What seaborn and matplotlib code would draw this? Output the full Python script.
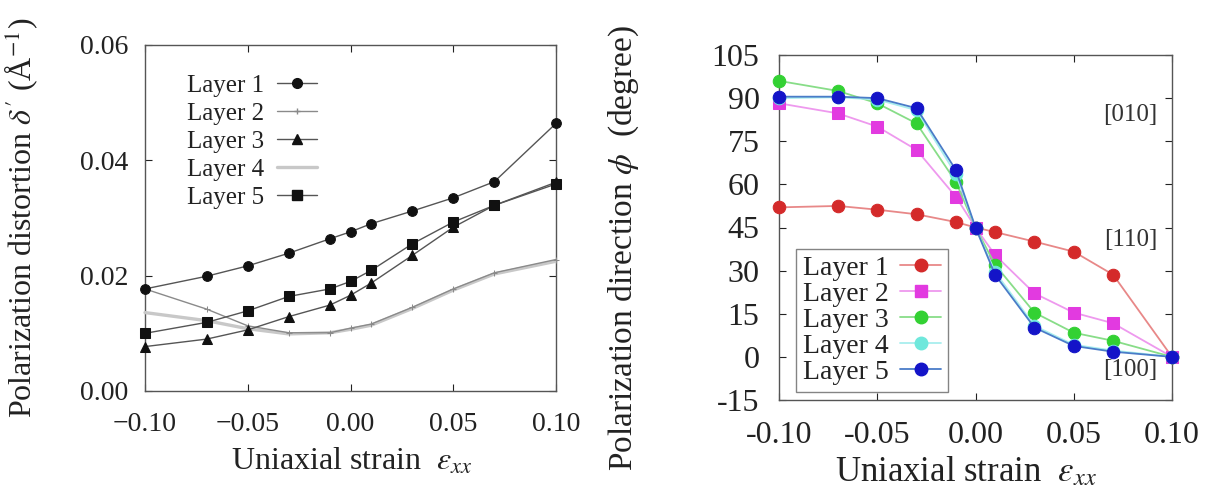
import numpy as np
import pandas as pd
import matplotlib
matplotlib.use("Agg")
import matplotlib.pyplot as plt
import seaborn as sns
from matplotlib.lines import Line2D

# ---------------- data ----------------
strain = [-0.10, -0.07, -0.05, -0.03, -0.01, 0.00, 0.01, 0.03, 0.05, 0.07, 0.10]
layers = ["Layer 1", "Layer 2", "Layer 3", "Layer 4", "Layer 5"]

# left panel: polarization distortion (1/Angstrom)
dist_l1 = [0.0177, 0.0199, 0.0217, 0.0239, 0.0264, 0.0276, 0.0290, 0.0312, 0.0335, 0.0363, 0.0464]
dist_l2 = [0.0177, 0.0142, 0.0113, 0.0101, 0.0101, 0.0109, 0.0116, 0.0145, 0.0177, 0.0205, 0.0228]
dist_l3 = [0.0077, 0.0090, 0.0106, 0.0129, 0.0149, 0.0166, 0.0187, 0.0235, 0.0284, 0.0322, 0.0362]
dist_l4 = [0.0136, 0.0122, 0.0108, 0.0099, 0.0101, 0.0107, 0.0114, 0.0143, 0.0175, 0.0203, 0.0225]
dist_l5 = [0.0100, 0.0119, 0.0139, 0.0164, 0.0177, 0.0190, 0.0209, 0.0255, 0.0293, 0.0322, 0.0359]

# right panel: polarization direction (degree)
ang_l1 = [52.0, 52.5, 51.2, 49.6, 46.9, 45.0, 43.4, 40.1, 36.6, 28.6, 0.0]
ang_l2 = [88.2, 84.7, 80.1, 72.0, 55.7, 45.0, 35.4, 22.1, 15.4, 11.7, 0.0]
ang_l3 = [96.0, 92.5, 88.2, 81.2, 60.9, 45.0, 32.0, 15.4, 8.4, 5.6, 0.0]
ang_l4 = [90.0, 90.3, 89.5, 85.8, 63.5, 45.0, 29.5, 10.8, 4.2, 2.2, 0.0]
ang_l5 = [90.5, 90.5, 90.0, 86.5, 65.0, 45.0, 28.5, 10.2, 3.8, 1.8, 0.0]

left_xticks = [-0.10, -0.05, 0.00, 0.05, 0.10]
left_xticklabels = ["\u22120.10", "\u22120.05", "0.00", "0.05", "0.10"]
left_yticks = [0.00, 0.02, 0.04, 0.06]
right_xticklabels = ["-0.10", "-0.05", "0.00", "0.05", "0.10"]
right_yticks = [-15, 0, 15, 30, 45, 60, 75, 90, 105]
dir_labels = ["[010]", "[110]", "[100]"]
dir_y = [84, 40.5, -4.5]

# ---------------- style ----------------
sns.set_theme(style="white")
plt.rcParams["font.family"] = ["Liberation Serif", "DejaVu Serif"]
plt.rcParams["mathtext.fontset"] = "stix"

fig = plt.figure(figsize=(12.06, 4.87), dpi=100)
W, H = 1206, 487
ax1 = fig.add_axes([145 / W, 1 - 391 / H, (556 - 145) / W, (391 - 45) / H])
ax2 = fig.add_axes([779 / W, 1 - 400 / H, (1172 - 779) / W, (400 - 55) / H])

df_left = pd.DataFrame({
    "strain": strain * 5,
    "value": dist_l1 + dist_l2 + dist_l3 + dist_l4 + dist_l5,
    "layer": sum([[l] * len(strain) for l in layers], []),
})
df_right = pd.DataFrame({
    "strain": strain * 5,
    "value": ang_l1 + ang_l2 + ang_l3 + ang_l4 + ang_l5,
    "layer": sum([[l] * len(strain) for l in layers], []),
})

TXT = "#222222"

# left panel styles
left_style = {
    "Layer 1": dict(color="#111111", marker="o", ms=7, lw=1.0, mec="#111111"),
    "Layer 2": dict(color="#8a8a8a", marker="+", ms=4, lw=1.0, mec="#8a8a8a"),
    "Layer 3": dict(color="#111111", marker="^", ms=7, lw=1.0, mec="#111111"),
    "Layer 4": dict(color="#c8c8c8", marker="None", ms=0, lw=2.4, mec="#c8c8c8"),
    "Layer 5": dict(color="#111111", marker="s", ms=7, lw=1.0, mec="#111111"),
}
line_colors = {"Layer 1": "#555555", "Layer 2": "#8a8a8a", "Layer 3": "#555555",
               "Layer 4": "#c8c8c8", "Layer 5": "#555555"}
for lay in ["Layer 4", "Layer 2", "Layer 3", "Layer 5", "Layer 1"]:
    st = left_style[lay]
    sub = df_left[df_left.layer == lay]
    sns.lineplot(data=sub, x="strain", y="value", ax=ax1, color=line_colors[lay],
                 lw=st["lw"], marker=st["marker"], markersize=st["ms"],
                 markerfacecolor=st["color"], markeredgecolor=st["mec"],
                 legend=False, clip_on=False, zorder=3)

h_left = [Line2D([], [], color=line_colors[l], lw=left_style[l]["lw"],
                 marker=left_style[l]["marker"], ms=left_style[l]["ms"],
                 mfc=left_style[l]["color"], mec=left_style[l]["mec"]) for l in layers]
leg1 = ax1.legend(h_left, layers, loc="upper left", bbox_to_anchor=(0.09, 0.93),
                  frameon=False, markerfirst=False, fontsize=18, handlelength=1.6,
                  labelspacing=0.22, handletextpad=0.5, borderpad=0.2, borderaxespad=0.0)
for t in leg1.get_texts():
    t.set_color(TXT)

ax1.set_xlim(-0.10, 0.10)
ax1.set_ylim(0.0, 0.06)
ax1.set_xticks(left_xticks)
ax1.set_xticklabels(left_xticklabels)
ax1.set_yticks(left_yticks)
ax1.set_yticklabels([f"{v:.2f}" for v in left_yticks])
ax1.tick_params(direction="in", bottom=True, left=True, top=True, right=True,
                length=5, width=0.8, labelsize=20, colors=TXT, pad=12)
ax1.tick_params(axis="x", pad=15)
ax1.set_xlabel(r"Uniaxial strain  $\varepsilon_{xx}$", fontsize=23, color=TXT)
ax1.xaxis.set_label_coords(0.504, -0.16)
ax1.set_ylabel(r"Polarization distortion $\delta'$ (Å$^{-1}$)", fontsize=23, color=TXT)
ax1.yaxis.set_label_coords(-0.255, 0.5)
for s in ax1.spines.values():
    s.set_color("#555555")
    s.set_linewidth(1.0)

# right panel
right_colors = {"Layer 1": "#d42a2a", "Layer 2": "#e23ae0", "Layer 3": "#33d133",
                "Layer 4": "#6fe8dc", "Layer 5": "#1414c8"}
right_line = {"Layer 1": "#e88888", "Layer 2": "#ee99ee", "Layer 3": "#88dd88",
              "Layer 4": "#a8eeee", "Layer 5": "#4a7cc8"}
right_marker = {"Layer 1": "o", "Layer 2": "s", "Layer 3": "o", "Layer 4": "o", "Layer 5": "o"}
for lay in layers:
    sub = df_right[df_right.layer == lay]
    sns.lineplot(data=sub, x="strain", y="value", ax=ax2, color=right_line[lay], lw=1.3,
                 marker=right_marker[lay], markersize=9, markerfacecolor=right_colors[lay],
                 markeredgecolor=right_colors[lay], legend=False, clip_on=False, zorder=3)

h_right = [Line2D([], [], color=right_line[l], lw=1.3, marker=right_marker[l], ms=9,
                  mfc=right_colors[l], mec=right_colors[l]) for l in layers]
leg2 = ax2.legend(h_right, layers, loc="lower left", bbox_to_anchor=(0.043, 0.023),
                  frameon=True, markerfirst=False, fontsize=20, handlelength=1.5,
                  labelspacing=0.02, handletextpad=0.4, borderpad=0.25, fancybox=False,
                  edgecolor="#666666", borderaxespad=0.0)
leg2.get_frame().set_linewidth(1.0)
for t in leg2.get_texts():
    t.set_color(TXT)

for lab, yy in zip(dir_labels, dir_y):
    ax2.text(0.0925, yy, lab, ha="right", va="center", fontsize=18, color="#333333")

ax2.set_xlim(-0.10, 0.10)
ax2.set_ylim(-15, 105)
ax2.set_xticks(left_xticks)
ax2.set_xticklabels(right_xticklabels)
ax2.set_yticks(right_yticks)
ax2.set_yticklabels([str(v) for v in right_yticks])
ax2.tick_params(direction="in", bottom=True, left=True, top=True, right=True,
                length=5, width=0.8, labelsize=23, colors=TXT, pad=14)
ax2.tick_params(axis="x", pad=15)
ax2.set_xlabel(r"Uniaxial strain  $\varepsilon_{xx}$", fontsize=25, color=TXT)
ax2.xaxis.set_label_coords(0.475, -0.16)
ax2.set_ylabel(r"Polarization direction $\phi$  (degree)", fontsize=24, color=TXT)
ax2.yaxis.set_label_coords(-0.35, 0.44)
for s in ax2.spines.values():
    s.set_color("#555555")
    s.set_linewidth(1.0)

fig.savefig("out.png", dpi=100)
